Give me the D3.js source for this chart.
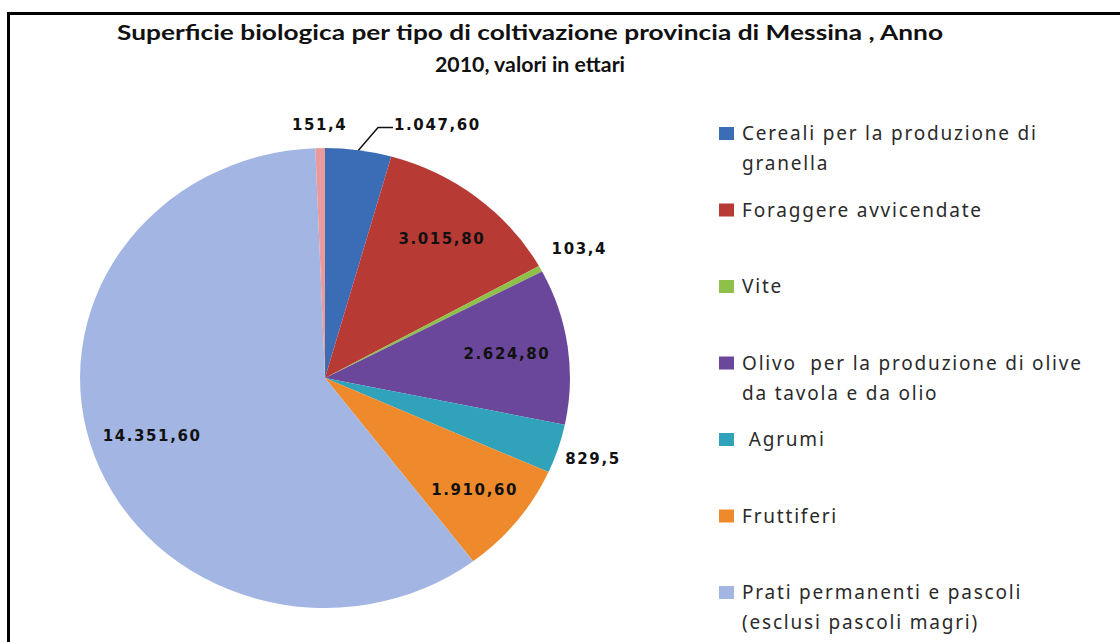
<!DOCTYPE html>
<html>
<head>
<meta charset="utf-8">
<script src="https://cdn.jsdelivr.net/npm/d3@7"></script>
<style>
  html, body { margin: 0; padding: 0; background: #ffffff; }
  svg { display: block; }
</style>
</head>
<body>
<svg id="chart" width="1120" height="642"></svg>
<script>
// ---- data ----
const titleLines = ["Superficie biologica per tipo di coltivazione provincia di Messina , Anno", "2010, valori in ettari"];
const categories = [
  "Cereali per la produzione di granella",
  "Foraggere avvicendate",
  "Vite",
  "Olivo  per la produzione di olive da tavola e da olio",
  "Agrumi",
  "Fruttiferi",
  "Prati permanenti e pascoli (esclusi pascoli magri)",
  "Altre coltivazioni"
];
const legendLines = [
  ["Cereali per la produzione di", "granella"],
  ["Foraggere avvicendate"],
  ["Vite"],
  ["Olivo  per la produzione di olive", "da tavola e da olio"],
  [" Agrumi"],
  ["Fruttiferi"],
  ["Prati permanenti e pascoli", "(esclusi pascoli magri)"]
];
const values = [1047.6, 3015.8, 103.4, 2624.8, 829.5, 1910.6, 14351.6, 151.4];
const valueLabels = ["1.047,60", "3.015,80", "103,4", "2.624,80", "829,5", "1.910,60", "14.351,60", "151,4"];
const colors = ["#3a6db5", "#b83a35", "#8fc04a", "#6a479a", "#30a3bb", "#ef8a2c", "#a3b6e3", "#e99a9a"];

// ---- layout ----
const svg = d3.select("#chart");
const cx = 325, cy = 378, R = 230, sx = 1.065;

// frame
svg.append("rect")
  .attr("x", 8.5).attr("y", 13.5)
  .attr("width", 1300).attr("height", 800)
  .attr("fill", "none").attr("stroke", "#000").attr("stroke-width", 3);

// title
const title = svg.append("g");
const titleWidths = [826, 190];
titleLines.forEach((t, i) => {
  title.append("text")
    .attr("x", 530).attr("y", 40 + i * 32)
    .attr("text-anchor", "middle")
    .attr("font-family", "Lato, 'Noto Sans', sans-serif")
    .attr("font-weight", 700)
    .attr("font-size", 21)
    .attr("fill", "#111")
    .attr("textLength", titleWidths[i])
    .attr("lengthAdjust", "spacingAndGlyphs")
    .text(t);
});

// pie
const pie = d3.pie().sort(null).startAngle(0).endAngle(2 * Math.PI).value(d => d);
const arcs = pie(values);
const arc = d3.arc().innerRadius(0).outerRadius(R);

const gPie = svg.append("g").attr("transform", `translate(${cx},${cy}) scale(${sx},1)`);
gPie.selectAll("path")
  .data(arcs)
  .enter().append("path")
  .attr("d", arc)
  .attr("fill", (d, i) => colors[i]);

function polar(angle, f) {
  return [cx + sx * R * f * Math.sin(angle), cy - R * f * Math.cos(angle)];
}
const mid = d => (d.startAngle + d.endAngle) / 2;

// label placement factors (inside ~0.76R, outside ~1.15R)
const labelF = [null, 0.77, 1.18, 0.75, 1.15, 0.78, 0.75, 1.10];

const gLab = svg.append("g")
  .attr("font-family", "'DejaVu Sans', Verdana, sans-serif")
  .attr("font-weight", 700)
  .attr("font-size", 15)
  .attr("letter-spacing", 1.6)
  .attr("fill", "#111");

arcs.forEach((d, i) => {
  const a = mid(d);
  if (labelF[i] === null) {
    // leader-line label
    const p0 = polar(a, 1.0);
    const p1 = polar(a + 3.4 * Math.PI / 180, 1.11);
    const p2 = [p1[0] + 15, p1[1]];
    svg.append("polyline")
      .attr("points", [p0, p1, p2].map(p => p.join(",")).join(" "))
      .attr("fill", "none").attr("stroke", "#111").attr("stroke-width", 1.5);
    gLab.append("text")
      .attr("x", p2[0] + 1).attr("y", p2[1] - 3)
      .attr("dominant-baseline", "central")
      .attr("text-anchor", "start")
      .text(valueLabels[i]);
  } else {
    const p = polar(a, labelF[i]);
    gLab.append("text")
      .attr("x", p[0]).attr("y", p[1])
      .attr("dominant-baseline", "central")
      .attr("text-anchor", "middle")
      .text(valueLabels[i]);
  }
});

// legend
const legY = d3.scalePoint().domain(d3.range(7)).range([133, 592]);
const gLeg = svg.append("g")
  .attr("font-family", "'Noto Sans', sans-serif")
  .attr("font-size", 19)
  .attr("letter-spacing", 1.8)
  .attr("fill", "#2a2a2a");
legendLines.forEach((lines, i) => {
  const y = legY(i);
  gLeg.append("rect")
    .attr("x", 719).attr("y", y - 6)
    .attr("width", 15).attr("height", 13)
    .attr("fill", colors[i]);
  lines.forEach((t, j) => {
    gLeg.append("text")
      .attr("x", 742).attr("y", y + j * 30)
      .attr("dominant-baseline", "central")
      .attr("xml:space", "preserve")
      .style("white-space", "pre")
      .text(t);
  });
});
</script>
</body>
</html>
